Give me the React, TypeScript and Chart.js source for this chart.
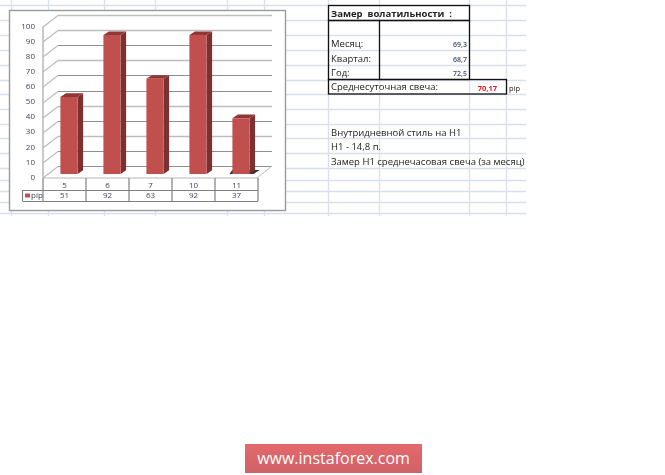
import React, { useEffect, useRef } from "react";
import { Chart, registerables } from "chart.js";
Chart.register(...registerables);

const categories = ["5", "6", "7", "10", "11"];
const pipValues = [51, 92, 63, 92, 37];
const seriesName = "pip";

const volatilityLabels = ["Месяц:", "Квартал:", "Год:"];
const volatilityValues = ["69,3", "68,7", "72,5"];
const notes = ["Внутридневной стиль на Н1", "Н1 - 14,8 п.", "Замер Н1 среднечасовая свеча (за месяц)"];

const sheetRows = [5, 20, 35, 50, 65, 80, 94, 109, 124, 138, 153, 168, 180, 191, 202, 213];
const sheetCols = [11, 48, 104, 155, 227, 264, 328, 379, 469, 506];
const lightGridTicks = [100, 90, 70, 40, 20];

const DEPTH_X = 5.5;
const DEPTH_Y = -3.7;
const labelFont = "8px 'Open Sans', sans-serif";
const labelColor = "#3f4258";

const line = (ctx: CanvasRenderingContext2D, x1: number, y1: number, x2: number, y2: number) => {
  ctx.beginPath();
  ctx.moveTo(x1, y1);
  ctx.lineTo(x2, y2);
  ctx.stroke();
};

const poly = (ctx: CanvasRenderingContext2D, pts: number[][], fill: string) => {
  ctx.fillStyle = fill;
  ctx.beginPath();
  pts.forEach(([x, y], i) => (i ? ctx.lineTo(x, y) : ctx.moveTo(x, y)));
  ctx.closePath();
  ctx.fill();
};

// spreadsheet behind the chart, frame, 3d walls
const sheetPlugin = {
  id: "sheet",
  beforeDraw(chart: any) {
    const ctx = chart.ctx;
    ctx.save();
    ctx.lineWidth = 1.3;
    ctx.strokeStyle = "#dadfec";
    sheetRows.forEach((y) => line(ctx, 0, y + 0.5, 526, y + 0.5));
    sheetCols.forEach((x) => line(ctx, x + 0.5, 0, x + 0.5, 216));

    // chart frame
    ctx.fillStyle = "#ffffff";
    ctx.fillRect(10, 10, 275, 200);
    ctx.strokeStyle = "#9a9a9a";
    ctx.lineWidth = 1.4;
    ctx.strokeRect(9.5, 10.5, 276, 200);

    // cells of the volatility table
    ctx.strokeStyle = "#111111";
    ctx.lineWidth = 1.3;
    ctx.strokeRect(328.5, 5.5, 141, 15);
    ctx.strokeRect(328.5, 20.5, 141, 59);
    line(ctx, 379.5, 20.5, 379.5, 79.5);
    ctx.strokeRect(328.5, 79.5, 178, 14.5);
    ctx.restore();
  },
  beforeDatasetsDraw(chart: any) {
    const ctx = chart.ctx;
    const y = chart.scales.y;
    const { left, right } = chart.chartArea;
    const wallL = left + 10.5;
    const wallR = right + 9.5;
    const frontL = left - 4.5;
    const frontR = right - 5.5;
    ctx.save();
    y.ticks.forEach((t: any) => {
      const py = Math.round(y.getPixelForValue(t.value)) + 0.5;
      const light = lightGridTicks.includes(t.value);
      ctx.lineWidth = light ? 1.6 : 1.2;
      ctx.strokeStyle = light ? "#bdbdbd" : "#8f8f8f";
      line(ctx, wallL, py - 8, wallR, py - 8);
      ctx.lineWidth = 1.2;
      ctx.strokeStyle = "#bcbcbc";
      line(ctx, wallL, py - 8, frontL, py + 3.5);
    });
    // floor and left edge
    ctx.strokeStyle = "#bcbcbc";
    ctx.lineWidth = 1.6;
    line(ctx, frontL, y.getPixelForValue(100) + 3.5, frontL, y.getPixelForValue(0) + 4);
    ctx.lineWidth = 1;
    line(ctx, wallR, y.getPixelForValue(0) - 8, frontR, y.getPixelForValue(0) + 4);
    ctx.restore();
  },
};

// side and top faces of the columns
const columnPlugin = {
  id: "column",
  beforeDatasetDraw(chart: any) {
    const ctx = chart.ctx;
    const meta = chart.getDatasetMeta(0);
    ctx.save();
    meta.data.forEach((bar: any, i: number) => {
      const { x, y, base, width } = bar.getProps(["x", "y", "base", "width"], true);
      const l = x - width / 2;
      const r = x + width / 2;
      if (i === meta.data.length - 1) {
        poly(ctx, [[l - 3, base], [l, base - 4], [r + 10, base - 4], [r + 4, base]], "#333333");
      }
      poly(ctx, [[r, y], [r + DEPTH_X, y + DEPTH_Y], [r + DEPTH_X, base + DEPTH_Y], [r, base]], "#7c302f");
      poly(ctx, [[l, y], [l + DEPTH_X, y + DEPTH_Y], [r + DEPTH_X, y + DEPTH_Y], [r, y]], "#8e3735");
    });
    ctx.restore();
  },
};

// data table under the chart
const tablePlugin = {
  id: "dataTable",
  afterDraw(chart: any) {
    const ctx = chart.ctx;
    const x = chart.scales.x;
    const y = chart.scales.y;
    const y0 = y.getPixelForValue(0);
    const top = y0 + 4;
    const mid = top + 12;
    const bottom = mid + 11;
    const cell = x.width / categories.length;
    const first = chart.chartArea.left - 4.5;
    const last = first + cell * categories.length;
    ctx.save();
    ctx.strokeStyle = "#808080";
    ctx.lineWidth = 1.2;
    line(ctx, 22.5, mid + 0.5, last, mid + 0.5);
    line(ctx, 22.5, bottom + 0.5, last, bottom + 0.5);
    line(ctx, 22.5, mid, 22.5, bottom);
    ctx.strokeStyle = "#b8b8b8";
    line(ctx, first, top, last, top);
    ctx.strokeStyle = "#808080";
    categories.forEach((_, i) => line(ctx, first + cell * i, top, first + cell * i, bottom));
    line(ctx, last, top, last, bottom);

    ctx.font = labelFont;
    ctx.fillStyle = labelColor;
    ctx.textAlign = "center";
    ctx.textBaseline = "middle";
    pipValues.forEach((v, i) => {
      ctx.fillText(String(v), x.getPixelForValue(i) - 4.5, mid + 6);
    });
    ctx.fillStyle = "#c0504d";
    ctx.fillRect(25, mid + 3.5, 5, 4);
    ctx.fillStyle = labelColor;
    ctx.textAlign = "left";
    ctx.fillText(seriesName, 31, mid + 6);
    ctx.restore();
  },
};

const textStyle: React.CSSProperties = {
  position: "absolute",
  fontFamily: "'Open Sans', sans-serif",
  fontSize: 9.5,
  lineHeight: "14px",
  color: "#222222",
  whiteSpace: "nowrap",
};

export default function App() {
  const canvasRef = useRef<HTMLCanvasElement>(null);

  useEffect(() => {
    if (!canvasRef.current) return;
    const chart = new Chart(canvasRef.current, {
      type: "bar",
      data: {
        labels: categories,
        datasets: [
          {
            label: seriesName,
            data: pipValues,
            backgroundColor: "#c0504d",
            barPercentage: 0.4,
            categoryPercentage: 1,
          },
        ],
      },
      options: {
        responsive: false,
        animation: false,
        layout: { padding: { left: 10, right: 402.5, top: 23, bottom: 281 } },
        plugins: { legend: { display: false }, tooltip: { enabled: false } },
        scales: {
          x: {
            grid: { display: false, drawTicks: false },
            border: { display: false },
            afterFit: (s: any) => {
              s.height = 20;
            },
            ticks: {
              padding: 7,
              labelOffset: -4.5,
              maxRotation: 0,
              color: labelColor,
              font: { family: "'Open Sans', sans-serif", size: 8 },
            },
          },
          y: {
            min: 0,
            max: 100,
            grid: { display: false, drawTicks: false },
            border: { display: false },
            afterFit: (s: any) => {
              s.width = 37.5;
            },
            ticks: {
              stepSize: 10,
              padding: 12.5,
              labelOffset: 3.5,
              color: labelColor,
              font: { family: "'Open Sans', sans-serif", size: 8 },
            },
          },
        },
      },
      plugins: [sheetPlugin, columnPlugin, tablePlugin],
    } as any);

    return () => {
      chart.destroy();
    };
  }, []);

  return (
    <div style={{ position: "absolute", left: 0, top: 0, width: 665, height: 475, background: "#fff", overflow: "hidden" }}>
      <canvas ref={canvasRef} width={665} height={475} style={{ position: "absolute", left: 0, top: 0 }} />

      <div style={{ ...textStyle, left: 331, top: 7, fontWeight: 700, whiteSpace: "pre" }}>Замер  волатильности  :</div>
      {volatilityLabels.map((t, i) => (
        <div key={t} style={{ ...textStyle, left: 331, top: 37 + i * 14.6 }}>{t}</div>
      ))}
      {volatilityValues.map((v, i) => (
        <div key={v} style={{ ...textStyle, right: 665 - 467, top: 38 + i * 14.6, fontSize: 7, fontWeight: 600, color: "#3d4a66" }}>{v}</div>
      ))}
      <div style={{ ...textStyle, left: 331, top: 80 }}>Среднесуточная свеча:</div>
      <div style={{ ...textStyle, right: 665 - 497, top: 81, fontSize: 7.5, fontWeight: 700, color: "#f01020" }}>70,17</div>
      <div style={{ ...textStyle, left: 509, top: 81, fontSize: 7.5 }}>pip</div>
      {notes.map((t, i) => (
        <div key={t} style={{ ...textStyle, left: 331, top: 125.5 + i * 14.7 }}>{t}</div>
      ))}

      <div
        style={{
          position: "absolute",
          left: 245,
          top: 444,
          width: 177,
          height: 29,
          background: "linear-gradient(#e4686c, #cf6366)",
          color: "#ffffff",
          fontFamily: "'Open Sans', sans-serif",
          fontSize: 16,
          lineHeight: "29px",
          textAlign: "center",
        }}
      >
        www.instaforex.com
      </div>
    </div>
  );
}
